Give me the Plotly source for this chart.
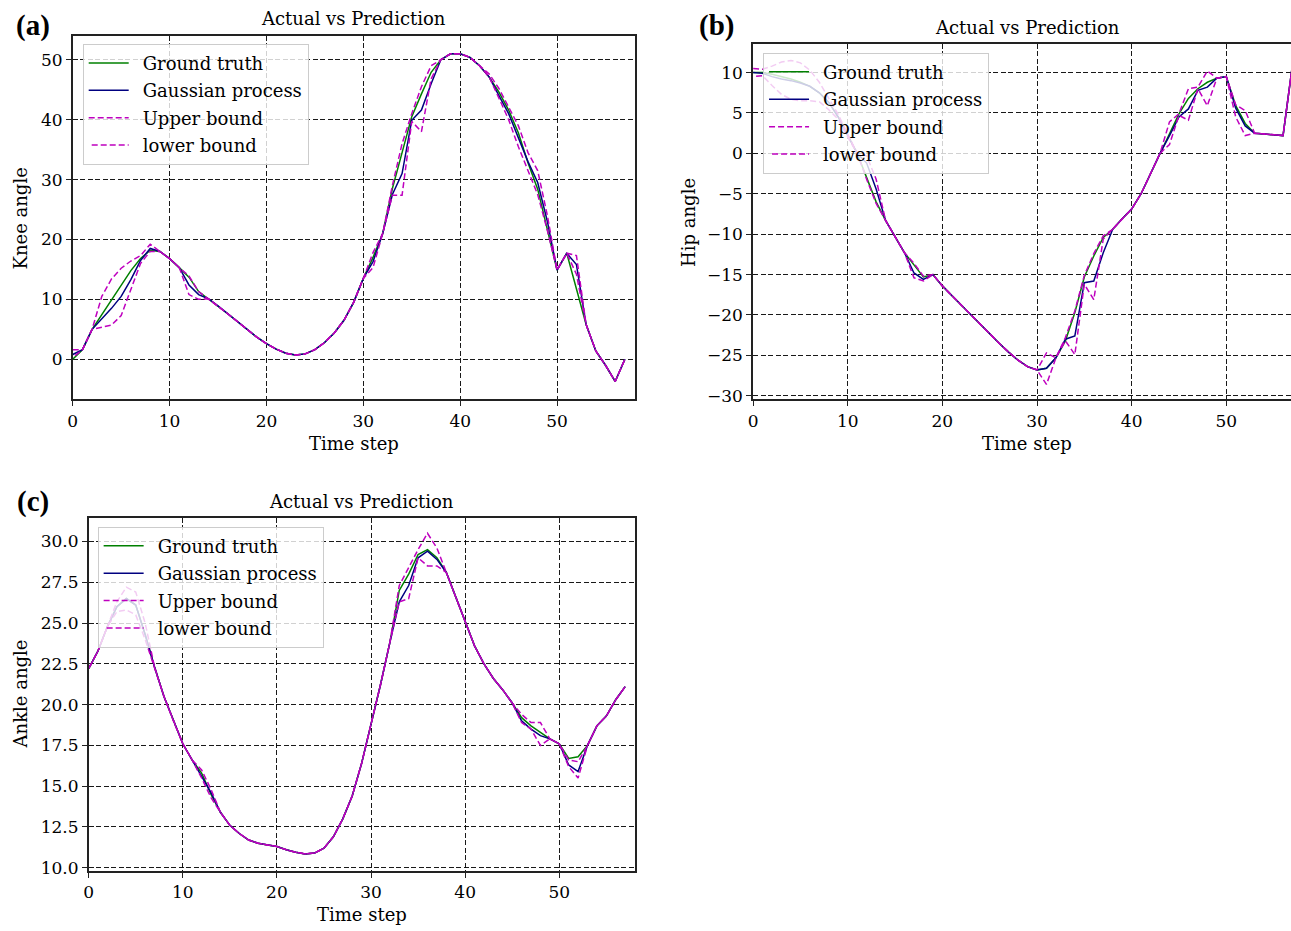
import plotly.graph_objects as go

W, H = 1291, 931
t = list(range(58))

# ---------------- Panel (a): Knee angle ----------------
knee_truth = [0.0, 1.6, 5.0, 7.5, 10.0, 12.5, 14.8, 16.8, 18.2, 18.0,
              16.8, 15.3, 13.7, 11.3, 10.1, 8.9, 7.6, 6.3, 5.0, 3.7,
              2.6, 1.7, 1.0, 0.7, 0.9, 1.6, 2.8, 4.4, 6.5, 9.5,
              13.5, 17.0, 21.0, 28.5, 34.5, 40.5, 44.3, 47.9, 50.0, 51.0,
              51.0, 50.4, 49.0, 47.1, 44.6, 41.6, 37.8, 32.8, 28.4, 21.8,
              14.9, 17.7, 11.8, 5.8, 1.4, -1.0, -3.7, 0.0]
knee_gp = [0.8, 1.6, 5.0, 6.8, 8.5, 10.5, 13.3, 16.5, 18.5, 18.0,
           16.8, 15.3, 12.4, 10.8, 10.1, 8.9, 7.6, 6.3, 5.0, 3.7,
           2.6, 1.7, 1.0, 0.7, 0.9, 1.6, 2.8, 4.4, 6.5, 9.5,
           13.5, 16.3, 21.0, 27.5, 31.0, 39.9, 41.6, 46.0, 50.0, 51.0,
           51.0, 50.4, 49.0, 47.1, 44.0, 41.0, 37.0, 33.0, 29.5, 23.0,
           14.9, 17.7, 15.8, 5.8, 1.4, -1.0, -3.7, 0.0]
knee_upper = [1.6, 1.6, 5.0, 10.5, 13.4, 15.2, 16.4, 17.3, 19.2, 18.0,
              16.8, 15.3, 13.9, 11.3, 10.1, 8.9, 7.6, 6.3, 5.0, 3.7,
              2.6, 1.7, 1.0, 0.7, 0.9, 1.6, 2.8, 4.4, 6.5, 9.5,
              13.5, 17.8, 21.0, 29.0, 36.0, 41.0, 45.5, 49.0, 50.0, 51.0,
              51.0, 50.4, 49.0, 47.6, 45.2, 42.0, 39.0, 34.5, 31.5, 24.0,
              14.9, 17.7, 17.3, 5.8, 1.4, -1.0, -3.7, 0.0]
knee_lower = [0.3, 1.6, 5.0, 5.4, 5.7, 7.3, 11.5, 16.0, 18.0, 18.0,
              16.8, 15.3, 10.8, 10.0, 10.1, 8.9, 7.6, 6.3, 5.0, 3.7,
              2.6, 1.7, 1.0, 0.7, 0.9, 1.6, 2.8, 4.4, 6.5, 9.5,
              13.5, 15.3, 21.0, 27.4, 27.4, 39.7, 38.0, 46.8, 50.0, 51.0,
              51.0, 50.4, 49.0, 47.1, 43.6, 40.0, 35.5, 31.5, 27.5, 21.5,
              14.9, 17.7, 14.2, 5.8, 1.4, -1.0, -3.7, 0.0]

# ---------------- Panel (b): Hip angle ----------------
hip_truth = [10.0, 10.0, 9.8, 9.5, 9.2, 8.8, 8.3, 7.5, 6.3, 4.5,
             2.2, 0.0, -3.0, -6.0, -8.3, -10.3, -12.3, -13.8, -15.3, -15.0,
             -16.4, -17.6, -18.8, -20.0, -21.2, -22.4, -23.5, -24.6, -25.6, -26.4,
             -26.8, -26.6, -25.3, -23.2, -19.7, -15.3, -12.7, -10.4, -9.4, -8.1,
             -6.9, -5.0, -2.5, 0.0, 2.6, 4.9, 6.8, 8.0, 8.8, 9.3,
             9.5, 5.9, 3.7, 2.5, 2.4, 2.3, 2.2, 11.0]
hip_gp = [10.0, 9.9, 9.5, 9.2, 9.0, 8.7, 8.3, 7.5, 6.3, 4.5,
          2.2, 0.0, -1.2, -4.4, -8.3, -10.3, -12.3, -14.8, -15.6, -15.0,
          -16.4, -17.6, -18.8, -20.0, -21.2, -22.4, -23.5, -24.6, -25.6, -26.4,
          -26.8, -26.6, -25.3, -23.0, -22.6, -16.0, -15.8, -12.3, -9.4, -8.1,
          -6.9, -5.0, -2.5, 0.0, 2.2, 4.5, 5.5, 7.8, 8.2, 9.3,
          9.5, 5.6, 3.4, 2.5, 2.4, 2.3, 2.2, 11.0]
hip_upper = [10.5, 10.4, 10.8, 11.3, 11.5, 11.2, 10.3, 8.8, 6.8, 4.8,
             2.4, 0.0, -0.3, -3.2, -8.3, -10.3, -12.3, -13.6, -15.2, -15.0,
             -16.4, -17.6, -18.8, -20.0, -21.2, -22.4, -23.5, -24.6, -25.6, -26.4,
             -26.8, -24.7, -25.3, -22.8, -19.5, -15.1, -12.4, -10.2, -9.4, -8.1,
             -6.9, -5.0, -2.5, 0.0, 3.9, 4.9, 8.0, 8.2, 10.2, 9.3,
             9.5, 6.0, 5.3, 2.5, 2.4, 2.3, 2.2, 11.0]
hip_lower = [9.5, 9.6, 8.4, 7.3, 6.7, 6.5, 6.5, 6.4, 5.4, 4.2,
             2.0, 0.0, -3.2, -6.2, -8.3, -10.3, -12.3, -15.4, -15.8, -15.0,
             -16.4, -17.6, -18.8, -20.0, -21.2, -22.4, -23.5, -24.6, -25.6, -26.4,
             -26.8, -28.6, -25.3, -23.2, -24.9, -16.2, -18.1, -10.6, -9.4, -8.1,
             -6.9, -5.0, -2.5, 0.0, 1.1, 4.7, 4.1, 8.0, 5.9, 9.3,
             9.5, 4.5, 2.2, 2.5, 2.4, 2.3, 2.2, 11.0]

# ---------------- Panel (c): Ankle angle ----------------
ankle_truth = [22.2, 23.3, 24.8, 26.0, 26.5, 26.1, 24.3, 22.3, 20.5, 19.0,
               17.6, 16.6, 15.8, 14.5, 13.4, 12.6, 12.1, 11.7, 11.5, 11.4,
               11.3, 11.1, 10.95, 10.85, 10.9, 11.2, 11.9, 13.0, 14.4, 16.4,
               18.8, 21.2, 23.8, 27.0, 28.0, 29.2, 29.5, 29.0, 28.1, 26.6,
               25.0, 23.6, 22.5, 21.6, 20.9, 20.1, 19.2, 18.7, 18.3, 17.9,
               17.6, 16.7, 16.8, 17.5, 18.7, 19.3, 20.3, 21.1]
ankle_gp = [22.2, 23.3, 24.8, 26.0, 26.5, 26.1, 24.3, 22.3, 20.5, 19.0,
            17.6, 16.6, 15.6, 14.6, 13.4, 12.6, 12.1, 11.7, 11.5, 11.4,
            11.3, 11.1, 10.95, 10.85, 10.9, 11.2, 11.9, 13.0, 14.4, 16.4,
            18.8, 21.2, 23.8, 26.3, 27.3, 29.0, 29.4, 28.9, 28.1, 26.6,
            25.0, 23.6, 22.5, 21.6, 20.9, 20.1, 19.0, 18.5, 18.1, 17.9,
            17.6, 16.3, 15.9, 17.5, 18.7, 19.3, 20.3, 21.1]
ankle_upper = [22.2, 23.3, 24.8, 26.3, 27.2, 26.9, 25.0, 22.3, 20.5, 19.0,
               17.6, 16.6, 16.0, 14.8, 13.4, 12.6, 12.1, 11.7, 11.5, 11.4,
               11.3, 11.1, 10.95, 10.85, 10.9, 11.2, 11.9, 13.0, 14.4, 16.4,
               18.8, 21.2, 23.8, 27.3, 28.4, 29.5, 30.5, 29.6, 28.1, 26.6,
               25.0, 23.6, 22.5, 21.6, 20.9, 20.1, 19.4, 18.9, 18.9, 17.9,
               17.6, 16.6, 16.5, 17.5, 18.7, 19.3, 20.3, 21.1]
ankle_lower = [22.2, 23.3, 24.8, 25.7, 25.8, 25.5, 24.0, 22.3, 20.5, 19.0,
               17.6, 16.6, 15.5, 14.3, 13.4, 12.6, 12.1, 11.7, 11.5, 11.4,
               11.3, 11.1, 10.95, 10.85, 10.9, 11.2, 11.9, 13.0, 14.4, 16.4,
               18.8, 21.2, 23.8, 26.3, 26.5, 29.0, 28.5, 28.5, 28.1, 26.6,
               25.0, 23.6, 22.5, 21.6, 20.9, 20.1, 18.9, 18.5, 17.5, 17.9,
               17.6, 16.2, 15.5, 17.5, 18.7, 19.3, 20.3, 21.1]

series_names = ["Ground truth", "Gaussian process", "Upper bound", "lower bound"]
colors = ["#008000", "#000080", "#bf00bf", "#bf00bf"]
dashes = ["solid", "solid", "6px,3px", "0px,3px,6px,0px"]

FONT = "DejaVu Serif"

fig = go.Figure()
panels = [
    ("x", "y", "legend", [knee_truth, knee_gp, knee_upper, knee_lower]),
    ("x2", "y2", "legend2", [hip_truth, hip_gp, hip_upper, hip_lower]),
    ("x3", "y3", "legend3", [ankle_truth, ankle_gp, ankle_upper, ankle_lower]),
]
for xa, ya, lg, data in panels:
    for i, (name, vals) in enumerate(zip(series_names, data)):
        fig.add_trace(go.Scatter(
            x=t, y=vals, mode="lines", name="\u2002" + name, xaxis=xa, yaxis=ya,
            legend=lg, legendgroup=lg + str(i),
            line=dict(color=colors[i], width=1.5, dash=dashes[i]),
            hoverinfo="skip",
        ))

def px_x(p):
    return p / W

def px_y(p):
    return 1 - p / H

grid = dict(showgrid=True, gridcolor="rgba(0,0,0,0.9)", gridwidth=1,
            griddash="5px,2.5px", zeroline=False, ticks="outside", ticklen=5,
            tickwidth=1, tickcolor="#222", linecolor="#222", linewidth=1.5,
            showline=True, tickfont=dict(family=FONT, size=17, color="black"))

fig.update_layout(
    width=W, height=H, margin=dict(l=0, r=0, t=0, b=0),
    paper_bgcolor="white", plot_bgcolor="white", showlegend=True,
    xaxis=dict(domain=[px_x(68), px_x(632)], range=[0, 58], anchor="y",
               tickvals=[0, 10, 20, 30, 40, 50], mirror=True, **grid),
    yaxis=dict(domain=[px_y(402), px_y(36)], range=[-6.7, 54.0], anchor="x",
               tickvals=[0, 10, 20, 30, 40, 50], mirror=True, **grid),
    xaxis2=dict(domain=[px_x(751), 1.0], range=[0, 56.84], anchor="y2",
                tickvals=[0, 10, 20, 30, 40, 50], mirror=True, **grid),
    yaxis2=dict(domain=[px_y(402), px_y(44)], range=[-30.45, 13.57], anchor="x2",
                tickvals=[10, 5, 0, -5, -10, -15, -20, -25, -30],
                ticktext=["10", "5", "0", "\u22125", "\u221210", "\u221215",
                          "\u221220", "\u221225", "\u221230"],
                mirror=False, **grid),
    xaxis3=dict(domain=[px_x(84), px_x(632)], range=[0, 58], anchor="y3",
                tickvals=[0, 10, 20, 30, 40, 50], mirror=True, **grid),
    yaxis3=dict(domain=[px_y(877), px_y(521)], range=[9.78, 31.46], anchor="x3",
                tickvals=[10, 12.5, 15, 17.5, 20, 22.5, 25, 27.5, 30],
                tickformat=".1f", mirror=True, **grid),
)

leg_common = dict(xanchor="left", yanchor="top", bgcolor="rgba(255,255,255,0.8)",
                  bordercolor="#cccccc", borderwidth=1, tracegroupgap=1,
                  itemwidth=40,
                  font=dict(family=FONT, size=18, color="black"))
fig.update_layout(
    legend=dict(x=px_x(78), y=px_y(44), **leg_common),
    legend2=dict(x=px_x(761), y=px_y(53), **leg_common),
    legend3=dict(x=px_x(93), y=px_y(530), **leg_common),
)

annots = []
def txt(text, x, y, size=18, angle=0, family=FONT, bold=False):
    annots.append(dict(text=("<b>%s</b>" % text) if bold else text,
                       x=px_x(x), y=px_y(y), xref="paper", yref="paper",
                       xanchor="center", yanchor="middle", showarrow=False,
                       textangle=angle, font=dict(family=family, size=size, color="black")))

txt("Actual vs Prediction", 350, 19)
txt("Actual vs Prediction", 1026, 28)
txt("Actual vs Prediction", 358, 505)
txt("Time step", 350, 446)
txt("Time step", 1026, 446)
txt("Time step", 358, 920)
txt("Knee angle", 16, 220, angle=-90)
txt("Hip angle", 686, 224, angle=-90)
txt("Ankle angle", 16, 698, angle=-90)
txt("(a)", 28, 26, size=29, family="Liberation Serif", bold=True)
txt("(b)", 714, 26, size=29, family="Liberation Serif", bold=True)
txt("(c)", 28, 505, size=29, family="Liberation Serif", bold=True)
fig.update_layout(annotations=annots)

fig.write_html("out.html", config={"displayModeBar": False},
               post_script="document.body.style.margin='0';document.body.style.overflow='hidden';")
